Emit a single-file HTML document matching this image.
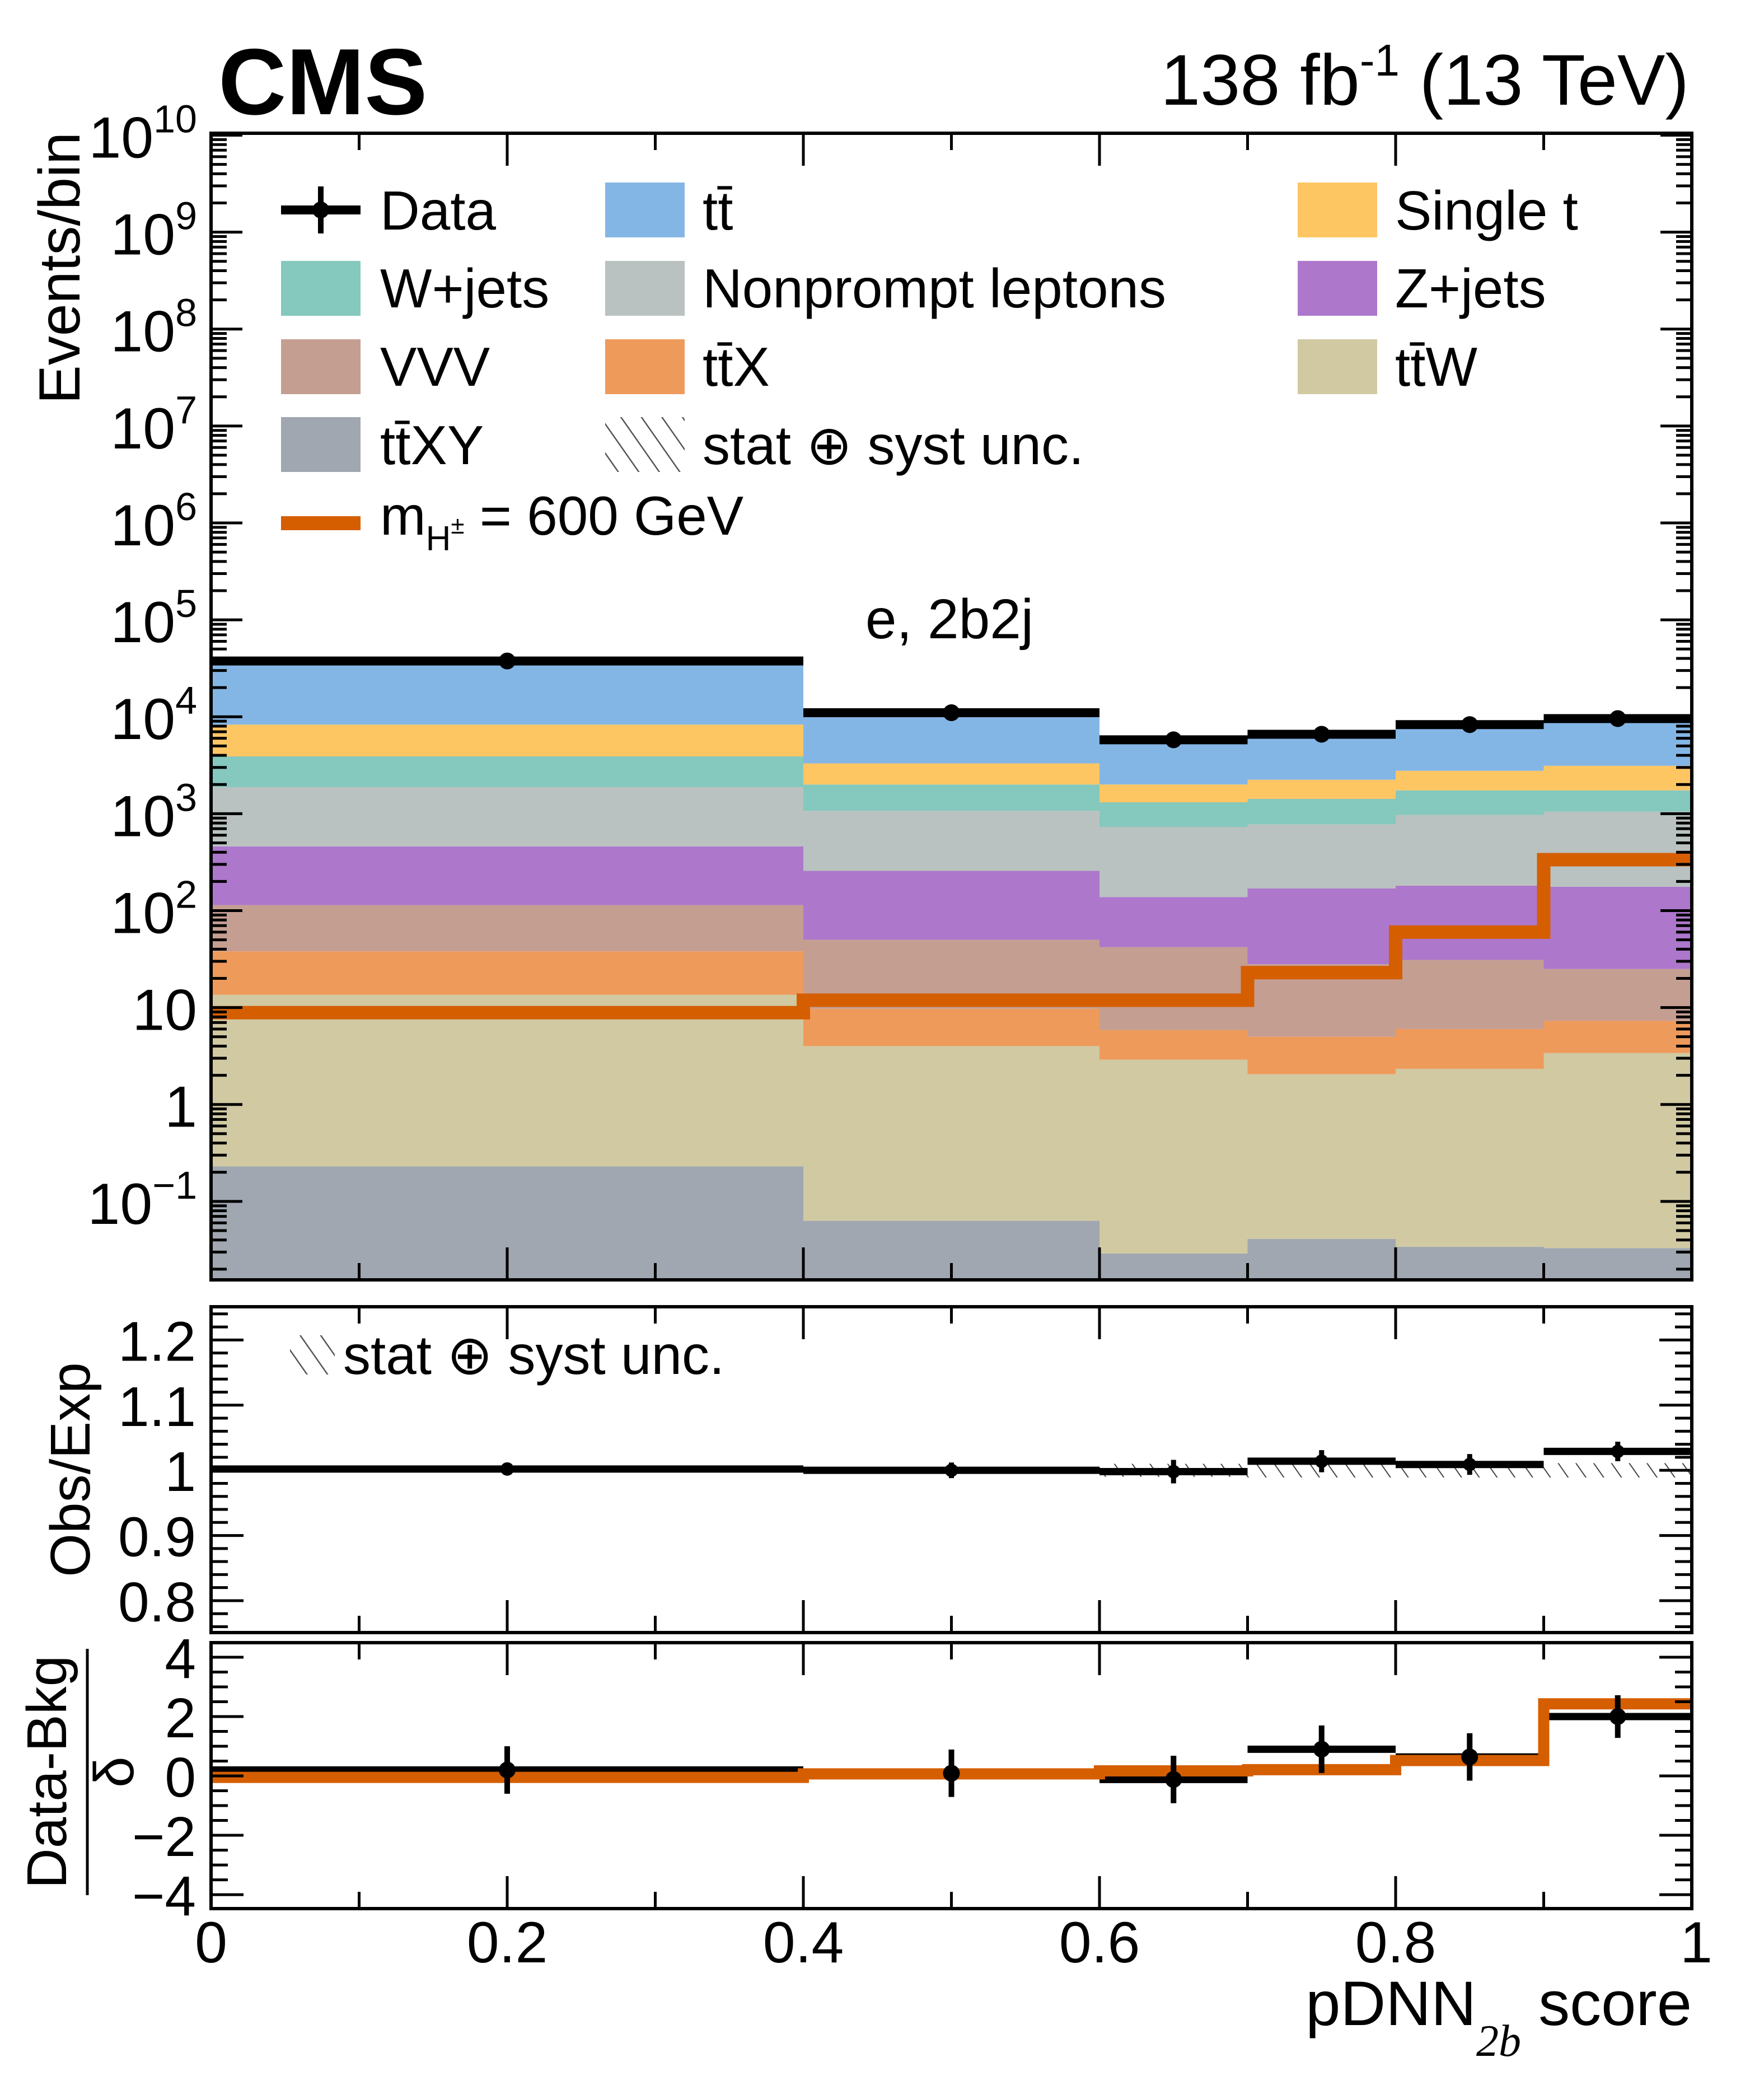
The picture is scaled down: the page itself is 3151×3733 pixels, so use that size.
<!DOCTYPE html>
<html><head><meta charset="utf-8">
<style>
html,body{margin:0;padding:0;background:#fff;}
svg{display:block;}
text{font-family:"Liberation Sans",Arial,sans-serif;fill:#000;}
</style></head>
<body>
<svg id="chart" width="3151" height="3733" viewBox="0 0 3151 3733" xmlns="http://www.w3.org/2000/svg">
<defs>
<pattern id="hatch" patternUnits="userSpaceOnUse" width="26" height="26" patternTransform="rotate(-35)">
<line x1="0" y1="0" x2="0" y2="26" stroke="#444" stroke-width="4"/>
</pattern>
</defs>
<g id="layer"></g>
</svg>
<script>
// ---- data ----
const binEdges = [0, 0.4, 0.6, 0.7, 0.8, 0.9, 1.0];
const processNames = ["ttXY","ttW","ttX","VVV","Zjets","Nonprompt","Wjets","SingleT","ttbar"];
const processColors = ["#a0a7b0","#d0c9a2","#ee9a5b","#c59e92","#ad77cc","#b9c2c0","#85c8bd","#fdc663","#84b6e5"];
const ttXY      = [0.23, 0.063, 0.029, 0.041, 0.034, 0.033];
const ttW       = [13.3, 3.94, 2.87, 2.01, 2.30, 3.36];
const ttX       = [24.5, 5.7, 2.95, 2.95, 3.67, 3.9];
const VVV       = [76, 40.3, 36.2, 23, 25, 17.7];
const Zjets     = [346, 207, 96, 141, 150, 151];
const Nonprompt = [1420, 813, 592, 607, 789, 874];
const Wjets     = [2020, 930, 580, 644, 770, 690];
const SingleT   = [4400, 1300, 690, 820, 1030, 1380];
const ttbar     = [29300, 7700, 3800, 4280, 5470, 6200];
const dataYield = [37600, 11000, 5780, 6600, 8300, 9570];
const signalYield = [8.85, 11.9, 11.9, 22.9, 60, 335];
const ratioVals = [1.002, 1.0, 0.998, 1.014, 1.009, 1.029];
const ratioErr  = [0.003, 0.012, 0.018, 0.017, 0.016, 0.015];
const uncBand   = [0.001, 0.005, 0.01, 0.011, 0.011, 0.011];
const deltaData = [0.2, 0.09, -0.12, 0.9, 0.64, 2.0];
const deltaErr  = [0.8, 0.8, 0.8, 0.8, 0.8, 0.72];
const deltaSig  = [-0.05, 0.07, 0.17, 0.21, 0.52, 2.43];
const xTickLabels = ["0","0.2","0.4","0.6","0.8","1"];
const ratioTickLabels = ["0.8","0.9","1","1.1","1.2"];
const deltaTickLabels = ["\u22124","\u22122","0","2","4"];

// ---- geometry ----
const X0=377, X1=3022;
const MT=238, MB=2286, RT=2334, RB=2916, DT=2934, DB=3409;
const sx = v => X0 + v*(X1-X0);
const LOG_MIN=Math.log10(0.0155), LOG_MAX=10.02;
const sy = v => { const l=Math.log10(Math.max(v,1e-9)); const y = MB - (l-LOG_MIN)/(LOG_MAX-LOG_MIN)*(MB-MT); return Math.min(MB, Math.max(MT,y)); };
const ry = v => RT + (1.251 - v)/(1.251-0.751)*(RB-RT);
const dy = v => DT + (4.49 - v)/(4.49+4.47)*(DB-DT);

const NS="http://www.w3.org/2000/svg";
const layer=document.getElementById('layer');
function mk(tag, attrs, parent){ const e=document.createElementNS(NS,tag); for(const k in attrs) e.setAttribute(k,attrs[k]); (parent||layer).appendChild(e); return e; }

// ---- main stack ----
const gStack = mk('g',{});


const procs=[ttXY,ttW,ttX,VVV,Zjets,Nonprompt,Wjets,SingleT,ttbar];
const cum=[0,0,0,0,0,0];
procs.forEach((arr,pi)=>{
  for(let b=0;b<6;b++){
    const lo=cum[b], hi=cum[b]+arr[b]; cum[b]=hi;
    const yTop=sy(hi), yBot= pi===0?MB:sy(lo);
    const r=mk('rect',{x:sx(binEdges[b]),y:yTop,width:sx(binEdges[b+1])-sx(binEdges[b]),height:Math.max(0,yBot-yTop),fill:processColors[pi]},gStack);
    
    
  }
});

// signal step line
function stepPath(vals, yf){
  let d='';
  for(let b=0;b<6;b++){
    const y=yf(vals[b]);
    d += (b===0?'M':'L')+sx(binEdges[b])+' '+y+' L'+sx(binEdges[b+1])+' '+y+' ';
  }
  return d;
}
const sig=mk('path',{d:stepPath(signalYield,sy),fill:'none',stroke:'#d55e00','stroke-width':24});



// data in main
for(let b=0;b<6;b++){
  const y=sy(dataYield[b]);
  const l=mk('line',{x1:sx(binEdges[b]),x2:sx(binEdges[b+1]),y1:y,y2:y,stroke:'#000','stroke-width':16});
  
  
  const c=mk('circle',{cx:sx((binEdges[b]+binEdges[b+1])/2),cy:y,r:15,fill:'#000'});
  
  
}

// ---- ratio panel ----
for(let b=0;b<6;b++){
  const h=mk('rect',{x:sx(binEdges[b]),y:ry(1+uncBand[b]),width:sx(binEdges[b+1])-sx(binEdges[b]),height:ry(1-uncBand[b])-ry(1+uncBand[b]),fill:'url(#hatch)'});
  
  
  const y=ry(ratioVals[b]), xc=sx((binEdges[b]+binEdges[b+1])/2);
  const l=mk('line',{x1:sx(binEdges[b]),x2:sx(binEdges[b+1]),y1:y,y2:y,stroke:'#000','stroke-width':13});
  
  
  const e=mk('line',{x1:xc,x2:xc,y1:ry(ratioVals[b]+ratioErr[b]),y2:ry(ratioVals[b]-ratioErr[b]),stroke:'#000','stroke-width':9});
  
  
  const c=mk('circle',{cx:xc,cy:y,r:12,fill:'#000'});
  
  
}

// ---- delta panel ----
for(let b=0;b<6;b++){
  const y=dy(deltaData[b]);
  const l=mk('line',{x1:sx(binEdges[b]),x2:sx(binEdges[b+1]),y1:y,y2:y,stroke:'#000','stroke-width':13});
  
  
}
const dsig=mk('path',{d:stepPath(deltaSig,dy),fill:'none',stroke:'#d55e00','stroke-width':20});


for(let b=0;b<6;b++){
  const y=dy(deltaData[b]), xc=sx((binEdges[b]+binEdges[b+1])/2);
  const e=mk('line',{x1:xc,x2:xc,y1:dy(deltaData[b]+deltaErr[b]),y2:dy(deltaData[b]-deltaErr[b]),stroke:'#000','stroke-width':10});
  
  
  const c=mk('circle',{cx:xc,cy:y,r:15,fill:'#000'});
  
  
}

// ---- frames and ticks ----
function frame(top,bot,name){
  const r=mk('rect',{x:X0,y:top,width:X1-X0,height:bot-top,fill:'none',stroke:'#000','stroke-width':6});
  
  
  for(let i=0;i<=10;i++){
    const v=i/10, L=(i%2===0)?58:30, x=sx(v);
    mk('line',{x1:x,x2:x,y1:bot,y2:bot-L,stroke:'#000','stroke-width':5});
    mk('line',{x1:x,x2:x,y1:top,y2:top+L,stroke:'#000','stroke-width':5});
  }
}
frame(MT,MB,'main-frame'); frame(RT,RB,'ratio-frame'); frame(DT,DB,'delta-frame');
// main log ticks
for(let e=-2;e<=10;e++){
  for(let m=1;m<10;m++){
    const v=m*Math.pow(10,e); const l=Math.log10(v);
    if(l<LOG_MIN||l>LOG_MAX) continue;
    const y=sy(v), L=(m===1)?56:28;
    mk('line',{x1:X0,x2:X0+L,y1:y,y2:y,stroke:'#000','stroke-width':5});
    mk('line',{x1:X1,x2:X1-L,y1:y,y2:y,stroke:'#000','stroke-width':5});
  }
}
// ratio ticks
for(let i=38;i<=62;i++){
  const v=i*0.02; if(v<0.751||v>1.251) continue;
  const y=ry(v), L=(i%5===0)?58:30;
  mk('line',{x1:X0,x2:X0+L,y1:y,y2:y,stroke:'#000','stroke-width':5});
  mk('line',{x1:X1,x2:X1-L,y1:y,y2:y,stroke:'#000','stroke-width':5});
}
for(let i=-9;i<=9;i++){
  const v=i*0.5; if(v<-4.47||v>4.49) continue;
  const y=dy(v), L=(i%4===0)?58:30;
  mk('line',{x1:X0,x2:X0+L,y1:y,y2:y,stroke:'#000','stroke-width':5});
  mk('line',{x1:X1,x2:X1-L,y1:y,y2:y,stroke:'#000','stroke-width':5});
}

// tick labels
function txt(s,x,y,size,anchor,name,extra){
  const t=mk('text',Object.assign({x:x,y:y,'font-size':size,'text-anchor':anchor||'start'},extra||{}));
  t.textContent=s;
  
  
  return t;
}
xTickLabels.forEach((s,i)=>{ txt(s, sx(i*0.2)+(i===5?8:0), 3505, 104, 'middle', 'x-tick-label'); });
ratioTickLabels.forEach((s,i)=>{ txt(s, 350, ry(0.8+i*0.1)+37, 100, 'end', 'ratio-tick-label'); });
deltaTickLabels.forEach((s,i)=>{ txt(s, 350, dy(-4+i*2)+37, 100, 'end', 'delta-tick-label'); });
const mainExp=[10,9,8,7,6,5,4,3,2];
mainExp.forEach(e=>{
  const y=sy(Math.pow(10,e));
  const t=mk('text',{x:352,y:y+40,'font-size':104,'text-anchor':'end'});
  
  
  const a=document.createElementNS(NS,'tspan'); a.textContent='10'; t.appendChild(a);
  const b=document.createElementNS(NS,'tspan'); b.textContent=String(e); b.setAttribute('font-size','70'); b.setAttribute('dy','-45'); t.appendChild(b);
});
txt('10',352,sy(10)+40,104,'end','y-tick-label');
txt('1',352,sy(1)+40,104,'end','y-tick-label');
(function(){
  const y=sy(0.1);
  const t=mk('text',{x:352,y:y+40,'font-size':104,'text-anchor':'end'});
  
  
  const a=document.createElementNS(NS,'tspan'); a.textContent='10'; t.appendChild(a);
  const b=document.createElementNS(NS,'tspan'); b.textContent='\u22121'; b.setAttribute('font-size','70'); b.setAttribute('dy','-45'); t.appendChild(b);
})();
</script>

<svg style="position:absolute;left:0;top:0" width="3151" height="3733" viewBox="0 0 3151 3733" xmlns="http://www.w3.org/2000/svg">
<defs>
<pattern id="hatch2" patternUnits="userSpaceOnUse" width="30" height="30" patternTransform="rotate(-35)">
<line x1="0" y1="0" x2="0" y2="30" stroke="#555" stroke-width="5"/>
</pattern>
</defs>
<text x="390" y="204" font-size="168" font-weight="bold" style="font-family:'Liberation Sans',Arial,sans-serif">CMS</text>
<text x="3017" y="187" font-size="128" text-anchor="end" style="font-family:'Liberation Sans',Arial,sans-serif">138 fb<tspan font-size="80" dy="-52">-1</tspan><tspan dy="52"> (13 TeV)</tspan></text>
<text transform="translate(142,236) rotate(-90)" font-size="104" text-anchor="end" style="font-family:'Liberation Sans',Arial,sans-serif">Events/bin</text>
<text transform="translate(160,2625) rotate(-90)" font-size="100" text-anchor="middle" style="font-family:'Liberation Sans',Arial,sans-serif">Obs/Exp</text>
<g>
<text transform="translate(118,3165) rotate(-90)" font-size="100" text-anchor="middle" style="font-family:'Liberation Sans',Arial,sans-serif">Data-Bkg</text>
<line x1="156" x2="156" y1="2945" y2="3385" stroke="#000" stroke-width="5"/>
<text transform="translate(238,3165) rotate(-90)" font-size="100" text-anchor="middle" style="font-family:'Liberation Sans',Arial,sans-serif">δ</text>
</g>
<text x="3022" y="3617" font-size="112" text-anchor="end" style="font-family:'Liberation Sans',Arial,sans-serif">pDNN<tspan font-family="Liberation Serif" font-style="italic" font-size="80" dy="55">2b</tspan><tspan dy="-55"> score</tspan></text>
<text x="1696" y="1140" font-size="100" text-anchor="middle" style="font-family:'Liberation Sans',Arial,sans-serif">e, 2b2j</text>

<g font-size="98" style="font-family:'Liberation Sans',Arial,sans-serif">
<g><line x1="502" x2="644" y1="375" y2="375" stroke="#000" stroke-width="16"/><line x1="573" x2="573" y1="333" y2="417" stroke="#000" stroke-width="10"/><circle cx="573" cy="375" r="15"/><text x="679" y="410">Data</text></g>
<g><rect x="1081" y="326" width="142" height="98" fill="#84b6e5"/><text x="1255" y="410">tt̄</text></g>
<g><rect x="2318" y="326" width="142" height="98" fill="#fdc663"/><text x="2492" y="410">Single t</text></g>
<g><rect x="502" y="466" width="142" height="98" fill="#85c8bd"/><text x="679" y="549">W+jets</text></g>
<g><rect x="1081" y="466" width="142" height="98" fill="#b9c2c0"/><text x="1255" y="549">Nonprompt leptons</text></g>
<g><rect x="2318" y="466" width="142" height="98" fill="#ad77cc"/><text x="2492" y="549">Z+jets</text></g>
<g><rect x="502" y="606" width="142" height="98" fill="#c59e92"/><text x="679" y="689">VVV</text></g>
<g><rect x="1081" y="606" width="142" height="98" fill="#ee9a5b"/><text x="1255" y="689">tt̄X</text></g>
<g><rect x="2318" y="606" width="142" height="98" fill="#d0c9a2"/><text x="2492" y="689">tt̄W</text></g>
<g><rect x="502" y="745" width="142" height="98" fill="#a0a7b0"/><text x="679" y="829">tt̄XY</text></g>
<g><rect x="1081" y="745" width="142" height="98" fill="url(#hatch2)"/><text x="1255" y="829">stat ⊕ syst unc.</text></g>
<g><rect x="502" y="922" width="142" height="25" fill="#d55e00"/><text x="679" y="955">m<tspan font-size="62" dy="28">H</tspan><tspan font-size="44" dy="-30">±</tspan><tspan dy="2"> = 600 GeV</tspan></text></g>
</g>
<g><rect x="518" y="2385" width="80" height="70" fill="url(#hatch2)"/><text x="613" y="2454" font-size="98" style="font-family:'Liberation Sans',Arial,sans-serif">stat ⊕ syst unc.</text></g>
</svg>
</body></html>
